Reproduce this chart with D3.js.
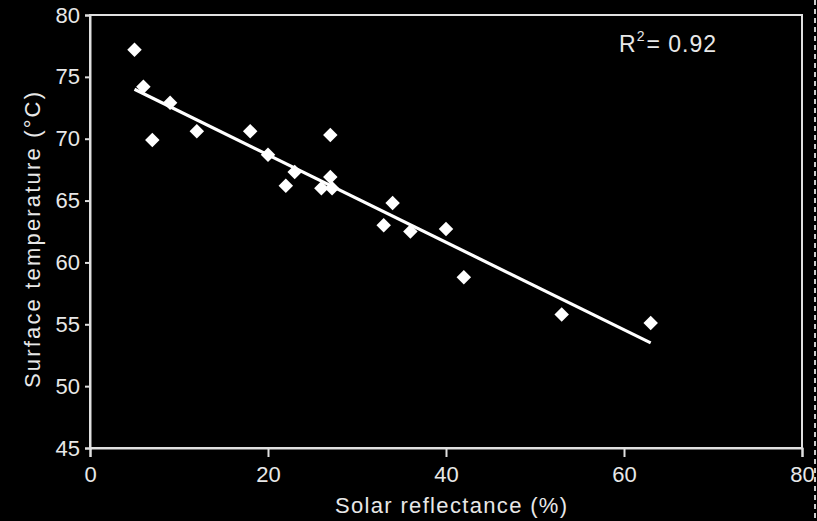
<!DOCTYPE html>
<html><head><meta charset="utf-8">
<script src="https://cdn.jsdelivr.net/npm/d3@7/dist/d3.min.js"></script>
<style>
html,body{margin:0;padding:0;background:#000;}
svg{display:block;}
text{font-family:"Liberation Sans",Arial,sans-serif;fill:#e8e8e8;}
</style></head>
<body>
<svg id="c" width="817" height="521"></svg>
<script>
const reflectance = [5, 6, 7, 9, 12, 18, 20, 23, 22, 27, 27, 26, 27.2, 34, 33, 36, 40, 42, 53, 63];
const temperature = [77.2, 74.2, 69.9, 72.9, 70.6, 70.6, 68.7, 67.3, 66.2, 70.3, 66.9, 66.0, 66.0, 64.8, 63.0, 62.5, 62.7, 58.8, 55.8, 55.1];
const fitX = [5, 63];
const fitY = [74.0, 53.5];
const xTicks = [0, 20, 40, 60, 80];
const yTicks = [45, 50, 55, 60, 65, 70, 75, 80];
const rSquared = "0.92";

const svg = d3.select("#c");
const L = 90, R = 802, T = 15, B = 448;
const x = d3.scaleLinear().domain([0, 80]).range([L, R]);
const y = d3.scaleLinear().domain([45, 80]).range([B, T]);
const stroke = "#e0e0e0";
const ff = '"Liberation Sans",Arial,sans-serif';

// frame
svg.append("rect").attr("x", L).attr("y", T).attr("width", R - L).attr("height", B - T)
  .attr("fill", "none").attr("stroke", stroke).attr("stroke-width", 2);

const xAxis = svg.append("g").attr("transform", `translate(0,${B})`)
  .call(d3.axisBottom(x).tickValues(xTicks).tickSize(9).tickPadding(9).tickFormat(d3.format("d")));
const yAxis = svg.append("g").attr("transform", `translate(${L},0)`)
  .call(d3.axisLeft(y).tickValues(yTicks).tickSize(5).tickPadding(5).tickFormat(d3.format("d")));
[xAxis, yAxis].forEach(g => {
  g.select(".domain").attr("stroke", stroke).attr("stroke-width", 2);
  g.selectAll(".tick line").attr("stroke", stroke).attr("stroke-width", 2);
  g.selectAll(".tick text").attr("fill", "#e8e8e8").style("font-size", "22px")
    .style("font-family", ff);
});

// regression line
svg.append("line")
  .attr("x1", x(fitX[0])).attr("y1", y(fitY[0]))
  .attr("x2", x(fitX[1])).attr("y2", y(fitY[1]))
  .attr("stroke", "#fff").attr("stroke-width", 3.2);

// points (diamonds)
const sym = d3.symbol().type(d3.symbolSquare).size(105);
svg.append("g").selectAll("path").data(reflectance.map((r, i) => [r, temperature[i]]))
  .join("path")
  .attr("d", sym)
  .attr("transform", d => `translate(${x(d[0])},${y(d[1])}) rotate(45)`)
  .attr("fill", "#fff");

// labels
svg.append("text").attr("x", 451).attr("y", 513).attr("text-anchor", "middle")
  .attr("textLength", 232).attr("lengthAdjust", "spacing")
  .style("font-size", "22px").text("Solar reflectance (%)");
svg.append("text").attr("transform", `translate(40,240) rotate(-90)`)
  .attr("text-anchor", "middle").attr("textLength", 296).attr("lengthAdjust", "spacing")
  .style("font-size", "22px").text("Surface temperature (°C)");

const rt = svg.append("text").attr("x", 619).attr("y", 52).style("font-size", "23px")
  .style("letter-spacing", "1px");
rt.append("tspan").text("R");
rt.append("tspan").attr("dy", -11).style("font-size", "14px").text("2");
rt.append("tspan").attr("dy", 11).attr("dx", 1).text("= " + rSquared);

// dashed right edge
svg.append("line").attr("x1", 815).attr("x2", 815).attr("y1", 0).attr("y2", 521)
  .attr("stroke", "#ccc").attr("stroke-width", 2).attr("stroke-dasharray", "5,4");
</script>
</body></html>
